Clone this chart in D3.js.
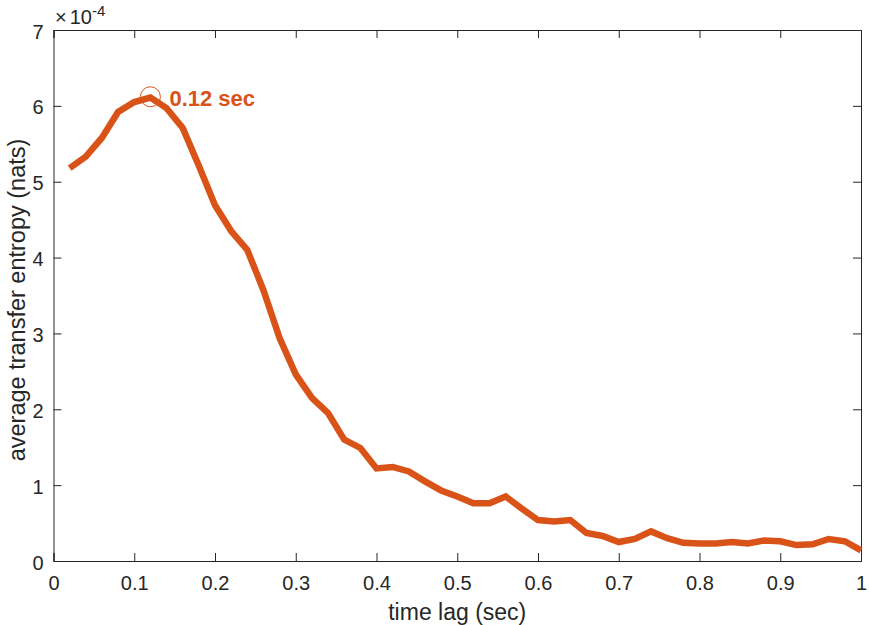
<!DOCTYPE html>
<html>
<head>
<meta charset="utf-8">
<script src="https://cdn.jsdelivr.net/npm/d3@7"></script>
<style>
  body { margin: 0; background: #fff; }
  text { font-family: "Liberation Sans", Arial, sans-serif; fill: #262626; }
</style>
</head>
<body>
<svg id="chart" width="869" height="625"></svg>
<script>
// time lag (sec)
var lags = [0.02,0.04,0.06,0.08,0.10,0.12,0.14,0.16,0.18,0.20,
  0.22,0.24,0.26,0.28,0.30,0.32,0.34,0.36,0.38,0.40,
  0.42,0.44,0.46,0.48,0.50,0.52,0.54,0.56,0.58,0.60,
  0.62,0.64,0.66,0.68,0.70,0.72,0.74,0.76,0.78,0.80,
  0.82,0.84,0.86,0.88,0.90,0.92,0.94,0.96,0.98,1.00];
// average transfer entropy (x 1e-4 nats)
var entropy = [5.18,5.33,5.58,5.92,6.05,6.11,5.97,5.71,5.21,4.69,
  4.35,4.10,3.57,2.94,2.46,2.15,1.95,1.60,1.49,1.22,
  1.24,1.18,1.05,0.93,0.85,0.76,0.76,0.85,0.69,0.54,
  0.52,0.54,0.37,0.33,0.25,0.29,0.39,0.30,0.24,0.23,
  0.23,0.25,0.23,0.27,0.26,0.21,0.22,0.29,0.26,0.14];
var xTicks = [0,0.1,0.2,0.3,0.4,0.5,0.6,0.7,0.8,0.9,1];
var yTicks = [0,1,2,3,4,5,6,7];
var peak = {lag: 0.12, value: 6.12, label: "0.12 sec"};

var svg = d3.select("#chart"),
  margin = {top: 30, right: 8, bottom: 64, left: 53.5},
  width = 869 - margin.left - margin.right,
  height = 625 - margin.top - margin.bottom;

var orange = "#D95319";
var axisColor = "#262626";

var x = d3.scaleLinear().domain([0, 1]).range([0, width]);
var y = d3.scaleLinear().domain([0, 7]).range([height, 0]);

var g = svg.append("g")
  .attr("transform", "translate(" + margin.left + "," + margin.top + ")");

// box axes, ticks pointing inward like matlab
function styleAxis(sel) {
  sel.attr("font-size", null).attr("font-family", null);
  sel.select(".domain").attr("stroke", axisColor).attr("stroke-width", 1);
  sel.selectAll(".tick line").attr("stroke", axisColor).attr("stroke-width", 1);
  sel.selectAll("text").style("font-size", "20px").style("fill", axisColor);
}

function fmtX(d) {
  return d === 0 || d === 1 ? String(d) : d3.format(".1f")(d);
}

g.append("g")
  .attr("transform", "translate(0," + height + ")")
  .call(d3.axisBottom(x).tickValues(xTicks).tickSize(-8).tickPadding(15).tickFormat(fmtX))
  .call(styleAxis);

g.append("g")
  .call(d3.axisTop(x).tickValues(xTicks).tickSize(-8).tickFormat(""))
  .call(styleAxis);

g.append("g")
  .call(d3.axisLeft(y).tickValues(yTicks).tickSize(-8).tickPadding(10).tickFormat(d3.format("d")))
  .call(styleAxis)
  .selectAll("text").attr("dy", "0.4em");

g.append("g")
  .attr("transform", "translate(" + width + ",0)")
  .call(d3.axisRight(y).tickValues(yTicks).tickSize(-8).tickFormat(""))
  .call(styleAxis);

// the curve
var line = d3.line()
  .x(function(d, i) { return x(lags[i]); })
  .y(function(d) { return y(d); });

g.append("path")
  .datum(entropy)
  .attr("fill", "none")
  .attr("stroke", orange)
  .attr("stroke-width", 6.5)
  .attr("stroke-linejoin", "miter")
  .attr("d", line);

// peak marker
g.append("circle")
  .attr("cx", x(peak.lag))
  .attr("cy", y(peak.value))
  .attr("r", 10)
  .attr("fill", "none")
  .attr("stroke", orange)
  .attr("stroke-width", 1);

g.append("text")
  .attr("x", x(peak.lag) + 19)
  .attr("y", y(peak.value) + 9)
  .style("font-size", "22px")
  .attr("font-weight", "bold")
  .style("fill", orange)
  .text(peak.label);

// exponent
var expo = svg.append("text")
  .attr("x", 55)
  .attr("y", 24)
  .style("font-size", "20px");
expo.append("tspan").text("\u00d7");
expo.append("tspan").attr("dx", 3).text("10");
expo.append("tspan").attr("dy", -8).style("font-size", "15px").text("-4");

// axis labels
svg.append("text")
  .attr("x", margin.left + width / 2)
  .attr("y", 620)
  .attr("text-anchor", "middle")
  .style("font-size", "23px")
  .text("time lag (sec)");

svg.append("text")
  .attr("transform", "translate(25,300) rotate(-90)")
  .attr("text-anchor", "middle")
  .style("font-size", "23.5px")
  .text("average transfer entropy (nats)");
</script>
</body>
</html>
